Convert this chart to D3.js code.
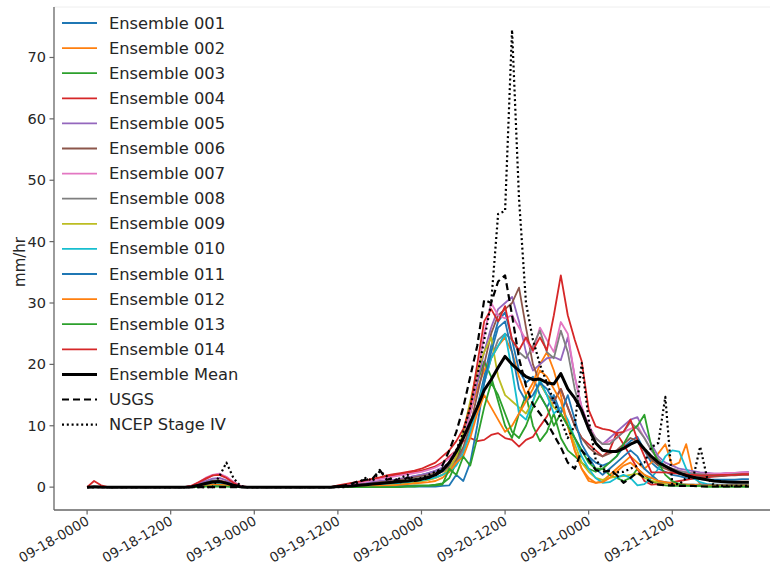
<!DOCTYPE html>
<html><head><meta charset="utf-8">
<script src="https://cdn.jsdelivr.net/npm/d3@7/dist/d3.min.js"></script>
<style>body{margin:0;background:#fff}svg{display:block;font-family:"DejaVu Sans",sans-serif}</style>
</head><body>
<svg id="c" width="770" height="568"></svg>
<script>
// ---------- data ----------
const hours = d3.range(96); // hourly steps from 09-18-0000
const tickHours = [0, 12, 24, 36, 48, 60, 72, 84];
const tickLabels = ["09-18-0000","09-18-1200","09-19-0000","09-19-1200","09-20-0000","09-20-1200","09-21-0000","09-21-1200"];
const yTicks = [0, 10, 20, 30, 40, 50, 60, 70];
const Z12 = [0,0,0,0,0,0,0,0,0,0,0,0];

const ens001 = [...Z12,
 0,0,0,0.1,0.4,0.8,1.1,1.0,0.6,0.2,0.05,0, ...Z12,
 0.1,0.2,0.3,0.5,0.6,0.8,0.9,1.0,1.1,1.3,1.5,1.8,
 2.0,2.3,2.6,3.0,3.5,4.5,6,9,13,18,23,27,
 28.5,24,19,17,18,15,13,15,12,10,8,6,
 5,4,3.5,4,5,6.5,7.5,8.2,6,4,3,2.5,
 2,1.8,1.5,1.4,1.3,1.2,1.2,1.2,1.2,1.2,1.3,1.3];
const ens002 = [...Z12,
 0,0,0,0,0.2,0.4,0.6,0.6,0.4,0.1,0,0, ...Z12,
 0,0,0.1,0.1,0.2,0.2,0.3,0.3,0.4,0.5,0.6,0.8,
 1.0,1.2,1.5,2,3,5,8,12,16,19,21,23,
 24.4,22,18,15,17,20,22,19,15,10,6,3,
 1,0.7,1,2,3,4,5,4,3,4,5.5,7,
 3.5,4,7,2,0.5,0.3,0.2,0.2,0.2,0.2,0.2,0.2];
const ens003 = [...Z12,
 0,0,0,0,0.1,0.2,0.3,0.3,0.2,0.1,0,0, ...Z12,
 0,0,0,0,0,0.1,0.1,0.1,0.2,0.2,0.2,0.3,
 0.3,0.3,0.4,0.6,1.5,4,8,13,17,20.5,18,14,
 10,8,12,15,10,7.5,9,12,8,6,5,4,
 3,2.5,3,2,1.5,1,1.5,3,2,1,0.5,0.3,
 0.2,0.2,0.2,0.2,0.2,0.1,0.1,0.1,0.1,0.1,0.1,0.1];
const ens004 = [0,1.0,0.3,0,0,0,0,0,0,0,0,0,
 0,0,0,0.2,0.7,1.3,1.9,2.1,1.6,0.8,0.2,0, ...Z12,
 0.2,0.4,0.6,0.8,1.0,1.3,1.5,1.7,1.9,2.1,2.3,2.5,
 2.7,3.0,3.4,4.0,5,6,7.5,8,7.5,7.7,8.5,8.8,
 8,7.7,6.6,7.7,8.2,9.9,11.5,14,16,13,10,8,
 7,6,5,6,8.8,7,5,3,1,0.4,0.5,0.6,
 0.8,1.0,1.2,1.4,1.5,1.6,1.7,1.8,1.9,2.0,2.1,2.2];
const ens005 = [...Z12,
 0,0,0,0.1,0.5,1.0,1.4,1.5,1.1,0.5,0.1,0, ...Z12,
 0.1,0.2,0.3,0.4,0.6,0.8,1.0,1.1,1.2,1.4,1.6,1.8,
 2.0,2.3,2.7,3.2,4,5.5,8,12,17,22,26,29,
 30,31,27,22,19,20,21,21.2,20.7,24.4,18,13,
 10,8,7,8,9,10,11,11.4,9,7,5,4,
 3.5,3,2.8,2.6,2.4,2.3,2.2,2.2,2.3,2.3,2.4,2.5];
const ens006 = [...Z12,
 0,0,0,0,0.3,0.7,1.0,1.1,0.8,0.3,0.1,0, ...Z12,
 0.1,0.2,0.3,0.4,0.5,0.6,0.8,0.9,1.0,1.2,1.4,1.6,
 1.8,2.0,2.3,2.7,3.3,4.5,6.5,10,15,20,25,28,
 29,30,32.5,26,20,17,15,14,16,13,10,8,
 6.5,5.5,5,5.5,6,7,8,7.5,6,4.5,3.5,3,
 2.5,2.2,2,1.9,1.8,1.8,1.8,1.8,1.9,1.9,2.0,2.0];
const ens007 = [...Z12,
 0,0,0,0.2,0.8,1.5,2.0,2.2,1.7,0.9,0.2,0, ...Z12,
 0.2,0.3,0.5,0.7,0.9,1.1,1.3,1.5,1.7,1.9,2.1,2.3,
 2.5,2.8,3.2,3.8,4.7,6,8,12,18,25,30,28,
 27.5,28,26,24,22,26,24,22,26.9,25,18,13,
 10,8,7,7.5,8,9,9.5,10,8,6,4.5,3.5,
 3,2.7,2.5,2.3,2.2,2.2,2.2,2.2,2.3,2.3,2.4,2.4];
const ens008 = [...Z12,
 0,0,0,0,0.2,0.5,0.8,0.9,0.6,0.2,0,0, ...Z12,
 0.1,0.2,0.2,0.3,0.4,0.5,0.6,0.8,0.9,1.0,1.2,1.4,
 1.6,1.8,2.1,2.5,3,4,6,9,13,17,21,24,
 25,24,22,21,23,25.5,22,21,25.5,22,16,12,
 9.5,8,7,7,8,9,10.6,9.5,8,6,4.5,3.5,
 3,2.6,2.4,2.2,2.1,2.0,2.0,2.0,2.0,2.1,2.1,2.1];
const ens009 = [...Z12,
 0,0,0,0,0.1,0.3,0.5,0.5,0.3,0.1,0,0, ...Z12,
 0,0,0.1,0.1,0.2,0.2,0.3,0.4,0.5,0.6,0.7,0.8,
 1,1.2,1.5,2,3,5,9,14,19,22,24.4,18,
 15,14,13,12,14,17,15,13,12,10,7,4,
 2.5,1.5,1.2,1.5,1.7,1.8,2,2.2,1.5,1,0.8,0.6,
 0.5,0.4,0.4,0.3,0.3,0.3,0.3,0.3,0.3,0.3,0.3,0.3];
const ens010 = [...Z12,
 0,0,0,0,0.1,0.3,0.5,0.6,0.4,0.1,0,0, ...Z12,
 0,0.1,0.1,0.2,0.2,0.3,0.4,0.5,0.6,0.7,0.8,1.0,
 1.1,1.3,1.6,2,2.5,3.5,5.5,9,13,17,21,23,
 25,19,12,11,14,17.5,15,12,13,11,8,5,
 3,1.5,0.7,0.8,1.5,2,1.5,0.3,0.5,1.5,3,5,
 6,5.8,3,1.5,0.8,0.5,0.4,0.3,0.3,0.3,0.3,0.3];
const ens011 = [...Z12,
 0,0,0,0,0.1,0.2,0.3,0.3,0.2,0.1,0,0, ...Z12,
 0,0,0,0,0,0,0,0,0.1,0.1,0.1,0.1,
 0.1,0.1,0.1,0.2,0.3,2,1,4,10,17,22,26,
 27,22,16,14,15,17,16,14,12,15,11,7,
 5,3,2,3,4,5,6,5,3,2,1,0.8,
 0.6,0.5,0.4,0.4,0.4,0.4,0.4,0.4,0.4,0.4,0.4,0.4];
const ens012 = [...Z12,
 0,0,0,0,0.1,0.2,0.4,0.4,0.3,0.1,0,0, ...Z12,
 0,0,0,0.1,0.1,0.2,0.2,0.3,0.3,0.4,0.5,0.6,
 0.7,0.8,1.0,1.5,2.5,4,5,8,12,15,13,11,
 9,10,12,14,16,19,18,16,14,10,6,3,
 1.5,0.7,0.8,1.5,2.5,3.5,4,3,2,1.5,1,0.8,
 0.6,0.5,0.4,0.4,0.3,0.3,0.3,0.3,0.3,0.3,0.3,0.3];
const ens013 = [...Z12,
 0,0,0,0,0,0.1,0.1,0.1,0.1,0,0,0, ...Z12,
 0,0,0,0,0,0,0,0,0,0,0.1,0.1,
 0.2,0.2,0.3,0.4,3,2,5,3.5,8,13,17,15,
 12,9,8,10,13,15,13,10,12,10,8,6,
 4,3,3,4,5,7,9,10,11.8,6.6,4,2,
 1,0.5,0.3,0.2,0.2,0.1,0.1,0.1,0.1,0.1,0.1,0.1];
const ens014 = [...Z12,
 0,0,0,0.2,0.8,1.4,1.9,2.0,1.5,0.7,0.1,0, ...Z12,
 0.3,0.5,0.7,0.9,1.1,1.4,1.6,1.9,2.1,2.3,2.5,2.7,
 3,3.5,4,5,6,7.5,9.5,13,20,27,29,27,
 29.5,24,22.3,24.4,22.3,24.4,22.3,28,34.5,28,24,20.5,
 12.6,9.9,9.5,9.3,8.8,9,11,7.7,5,2.4,2.4,2.4,
 2.3,2.2,2.1,2.0,1.9,1.9,1.9,2.0,2.0,2.0,2.1,2.1];
const ensMean = [0,0.07,0.02,0,0,0,0,0,0,0,0,0,
 0,0,0,0.05,0.3,0.6,0.85,0.9,0.65,0.3,0.05,0, ...Z12,
 0.1,0.15,0.2,0.3,0.4,0.5,0.6,0.7,0.8,0.9,1.0,1.15,
 1.3,1.6,2,2.7,4,5.8,8,10.5,13,15.8,17.5,19.5,
 21.3,20,19,18,17.5,17.6,17,16.8,18.5,16,14.5,12.5,
 9.5,7.2,6,5.8,5.8,6.3,7,7.5,6.2,5,4,3.4,
 2.8,2.3,1.9,1.6,1.4,1.2,1.0,0.9,0.85,0.8,0.8,0.8];
const usgs = [...Z12, ...Z12, ...Z12,
 0.1,0.3,0.6,1.0,1.2,1.4,2.8,1.2,1.5,0.8,1.6,1.0,
 1.2,1.5,2,3.5,6,9,13,18,23,30.5,30,33.5,
 34.5,28,21,16.5,13.5,12,10.5,8.5,6.5,4,3,6,
 4.5,2.8,2.5,2.7,2,0.7,1.5,2.4,1.5,0.8,0.4,0.3,
 0.3,0.2,0.2,0.2,0.1,0.1,0.1,0.1,0.1,0.1,0.1,0.1];
const ncep = [...Z12,
 0,0,0,0,0,0,0,1.8,4.0,1.5,0.2,0, ...Z12,
 0,0,0.3,0.8,1.5,1.0,2.6,1.8,1.0,1.5,2.0,1.2,
 1.5,2,2.5,3,4,6,9,13,18,24,30,44.5,
 45,74.5,47,30,24,20,17,14,11,8,10,20.2,
 11,4.5,3,2.5,2.4,2.5,3,3.5,4,6.5,7.2,14.7,
 0.5,0.5,1.5,1.5,6.6,1.5,0.3,0.2,0.2,0.2,0.2,0.2];

const ensembles = [ens001,ens002,ens003,ens004,ens005,ens006,ens007,ens008,ens009,ens010,ens011,ens012,ens013,ens014];
const ensNames = ["Ensemble 001","Ensemble 002","Ensemble 003","Ensemble 004","Ensemble 005","Ensemble 006","Ensemble 007","Ensemble 008","Ensemble 009","Ensemble 010","Ensemble 011","Ensemble 012","Ensemble 013","Ensemble 014"];
const ensColors = ["#1f77b4","#ff7f0e","#2ca02c","#d62728","#9467bd","#8c564b","#e377c2","#7f7f7f","#bcbd22","#17becf","#1f77b4","#ff7f0e","#2ca02c","#d62728"];

// ---------- drawing ----------
const svg = d3.select("#c");
const L = 54, R = 782, T = 7, B = 510;
const x = d3.scaleLinear().domain([-4.75, 99.75]).range([L, R]);
const y = d3.scaleLinear().domain([-3.725, 78.225]).range([B, T]);

svg.append("defs").append("clipPath").attr("id","clip")
  .append("rect").attr("x",L).attr("y",T).attr("width",R-L).attr("height",B-T);

const plot = svg.append("g").attr("clip-path","url(#clip)");
const line = d3.line().x((d,i)=>x(hours[i])).y(d=>y(d));

const series = ensembles.map((v,i)=>({name:ensNames[i], values:v, color:ensColors[i], w:1.8, dash:null}));
series.push({name:"Ensemble Mean", values:ensMean, color:"#000", w:3, dash:null});
series.push({name:"USGS", values:usgs, color:"#000", w:2.2, dash:"7,4"});
series.push({name:"NCEP Stage IV", values:ncep, color:"#000", w:2.2, dash:"2,2.8"});

series.forEach(s=>{
  plot.append("path").datum(s.values)
    .attr("d", line).attr("fill","none")
    .attr("stroke", s.color).attr("stroke-width", s.w)
    .attr("stroke-linejoin","round")
    .attr("stroke-dasharray", s.dash);
});

// spines
svg.append("line").attr("x1",L).attr("x2",R).attr("y1",T).attr("y2",T).attr("stroke","#eee").attr("stroke-width",1);
svg.append("line").attr("x1",L).attr("x2",L).attr("y1",T).attr("y2",B).attr("stroke","#666").attr("stroke-width",1.3);
svg.append("line").attr("x1",L).attr("x2",R).attr("y1",B).attr("y2",B).attr("stroke","#666").attr("stroke-width",1.3);

// y axis
const ya = svg.append("g");
yTicks.forEach(v=>{
  ya.append("line").attr("x1",L-4.5).attr("x2",L).attr("y1",y(v)).attr("y2",y(v)).attr("stroke","#666").attr("stroke-width",1.2);
  ya.append("text").attr("x",L-8).attr("y",y(v)).attr("text-anchor","end").attr("dominant-baseline","central")
    .attr("font-size","14.5px").attr("fill","#262626").text(v);
});
svg.append("text").attr("transform","translate(20,262) rotate(-90)").attr("text-anchor","middle")
  .attr("dominant-baseline","central").attr("font-size","15px").attr("fill","#262626").text("mm/hr");

// x axis
const xa = svg.append("g");
tickHours.forEach((h,i)=>{
  xa.append("line").attr("x1",x(h)).attr("x2",x(h)).attr("y1",B).attr("y2",B+4.5).attr("stroke","#666").attr("stroke-width",1.2);
  xa.append("text").attr("transform",`translate(${x(h)-2},${B+5}) rotate(-30)`)
    .attr("text-anchor","end").attr("dy","0.75em").attr("font-size","13.5px").attr("fill","#262626").text(tickLabels[i]);
});

// legend
const lg = svg.append("g");
series.forEach((s,i)=>{
  const yy = 23 + i*25.1;
  lg.append("line").attr("x1",62).attr("x2",97).attr("y1",yy).attr("y2",yy)
    .attr("stroke",s.color).attr("stroke-width",s.w).attr("stroke-dasharray",s.dash);
  lg.append("text").attr("x",109).attr("y",yy).attr("dominant-baseline","central")
    .attr("font-size","16.3px").attr("fill","#262626").text(s.name);
});
</script>
</body></html>
